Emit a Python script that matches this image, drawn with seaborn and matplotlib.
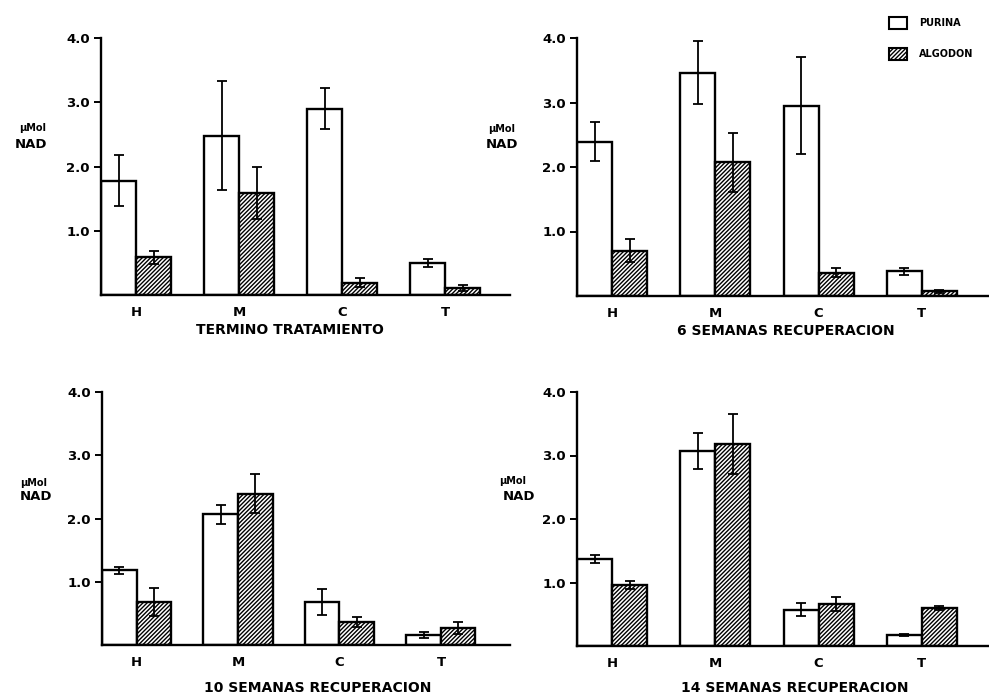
import matplotlib.pyplot as plt
import numpy as np
import pandas as pd
import seaborn as sns
from matplotlib.patches import Patch

sns.set_style("white")
plt.rcParams.update({
    'font.family': 'DejaVu Sans',
    'font.weight': 'bold',
    'text.color': 'black',
    'axes.labelcolor': 'black',
    'xtick.color': 'black',
    'ytick.color': 'black',
    'hatch.linewidth': 1.0,
    'hatch.color': 'black',
})

# datos (umol NAD)
organos = ["H", "M", "C", "T"]
dietas = ["PURINA", "ALGODON"]
etapas = ["TERMINO TRATAMIENTO", "6 SEMANAS RECUPERACION",
          "10 SEMANAS RECUPERACION", "14 SEMANAS RECUPERACION"]

purina = [[1.78, 2.48, 2.90, 0.50],
          [2.39, 3.46, 2.95, 0.38],
          [1.18, 2.07, 0.68, 0.16],
          [1.37, 3.07, 0.57, 0.17]]
purina_err = [[0.40, 0.85, 0.32, 0.06],
              [0.30, 0.49, 0.75, 0.06],
              [0.06, 0.15, 0.20, 0.05],
              [0.06, 0.29, 0.10, 0.02]]
algodon = [[0.59, 1.59, 0.19, 0.11],
           [0.70, 2.07, 0.36, 0.07],
           [0.68, 2.39, 0.36, 0.27],
           [0.96, 3.18, 0.66, 0.60]]
algodon_err = [[0.10, 0.40, 0.07, 0.04],
               [0.18, 0.45, 0.07, 0.02],
               [0.22, 0.31, 0.08, 0.09],
               [0.07, 0.47, 0.11, 0.03]]

W, H = 989, 699
def caja(x0, y0, x1, y1):
    return [x0 / W, 1 - y1 / H, (x1 - x0) / W, (y1 - y0) / H]

posiciones = [(101, 38, 510, 295), (577, 38, 989, 296),
              (102, 392, 510, 645), (577, 392, 989, 646)]
xder = [3.63, 3.65, 3.68, 3.65]
titulo_xy = [(290, 330), (786, 331), (318, 688), (795, 688)]
mol_xy = [(33, 128), (502, 129), (34, 483), (513, 481)]
nad_xy = [(31, 144), (502, 144), (36, 497), (519, 497)]

fig = plt.figure(figsize=(9.89, 6.99), dpi=100)

for i in range(4):
    ax = fig.add_axes(caja(*posiciones[i]))
    df = pd.DataFrame({
        "organo": organos * 2,
        "dieta": [dietas[0]] * 4 + [dietas[1]] * 4,
        "nad": purina[i] + algodon[i],
    })
    sns.barplot(data=df, x="organo", y="nad", hue="dieta", order=organos,
                hue_order=dietas, width=0.68, palette=["white", "white"],
                saturation=1, edgecolor="black", linewidth=1.7,
                errorbar=None, legend=False, ax=ax)
    for bar in ax.containers[1]:
        bar.set_hatch('////////')

    for cont, err in zip(ax.containers, [purina_err[i], algodon_err[i]]):
        xs, ys, es = [], [], []
        for p in cont:
            xc = p.get_x() + p.get_width() / 2
            xs.append(xc)
            ys.append(p.get_height())
            es.append(err[int(round(xc))])
        ax.errorbar(xs, ys, yerr=es, fmt='none', ecolor='black',
                    elinewidth=1.3, capsize=3.5, capthick=1.3,
                    zorder=5, clip_on=False)

    ax.set_ylim(0, 4.0)
    ax.set_xlim(-0.34, xder[i])
    ax.set_yticks([1, 2, 3, 4])
    ax.set_yticklabels(['1.0', '2.0', '3.0', '4.0'])
    ax.set_xlabel('')
    ax.set_ylabel('')
    sns.despine(ax=ax)
    for s in ['left', 'bottom']:
        ax.spines[s].set_linewidth(1.7)
        ax.spines[s].set_color('black')
    ax.tick_params(axis='y', length=5, width=1.4, pad=3, labelsize=9.5,
                   left=True, color='black')
    ax.tick_params(axis='x', length=0, pad=8, labelsize=9.5)

    fig.text(titulo_xy[i][0] / W, 1 - titulo_xy[i][1] / H, etapas[i],
             ha='center', va='center', fontsize=10)
    fig.text(mol_xy[i][0] / W, 1 - mol_xy[i][1] / H, "\u00b5Mol",
             ha='center', va='center', fontsize=7)
    fig.text(nad_xy[i][0] / W, 1 - nad_xy[i][1] / H, "NAD",
             ha='center', va='center', fontsize=9.5)

manijas = [Patch(facecolor='white', edgecolor='black', lw=1.5),
           Patch(facecolor='white', edgecolor='black', lw=1.5, hatch='////////')]
fig.legend(handles=manijas, labels=dietas, loc='upper left',
           bbox_to_anchor=(880 / W, 1 - 8 / H), frameon=False, fontsize=7,
           handlelength=1.9, handleheight=1.5, labelspacing=2.0,
           handletextpad=1.2)

fig.savefig("out.png", dpi=100)
